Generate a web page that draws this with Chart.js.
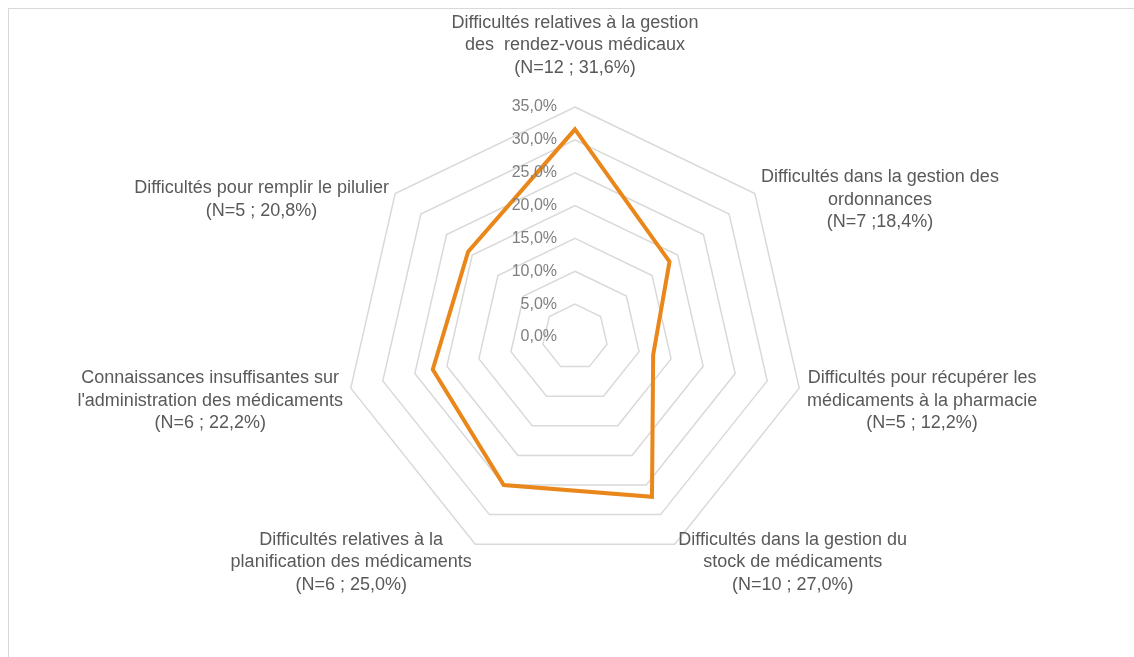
<!DOCTYPE html>
<html>
<head>
<meta charset="utf-8">
<script src="https://cdn.jsdelivr.net/npm/chart.js@4/dist/chart.umd.min.js"></script>
<style>
  body { margin: 0; background: #fff; overflow: hidden; }
  #wrap { position: relative; width: 1134px; height: 657px; overflow: hidden; }
  #frame { position: absolute; left: 8px; top: 8px; right: -10px; bottom: -10px;
           border-left: 1.5px solid #d9d9d9; border-top: 1.5px solid #d9d9d9; }
  canvas { position: absolute; left: 0; top: 0; }
</style>
</head>
<body>
<div id="wrap">
  <div id="frame"></div>
  <canvas id="chart1" width="1134" height="657"></canvas>
</div>
<script>
// axis labels (one array per axis, one entry per line)
var categories = [
  ["Difficultés relatives à la gestion", "des  rendez-vous médicaux", "(N=12 ; 31,6%)"],
  ["Difficultés dans la gestion des", "ordonnances", "(N=7 ;18,4%)"],
  ["Difficultés pour récupérer les", "médicaments à la pharmacie", "(N=5 ; 12,2%)"],
  ["Difficultés dans la gestion du", "stock de médicaments", "(N=10 ; 27,0%)"],
  ["Difficultés relatives à la", "planification des médicaments", "(N=6 ; 25,0%)"],
  ["Connaissances insuffisantes sur", "l'administration des médicaments", "(N=6 ; 22,2%)"],
  ["Difficultés pour remplir le pilulier", "(N=5 ; 20,8%)"]
];
var values = [31.6, 18.4, 12.2, 27.0, 25.0, 22.2, 20.8];
var tickMin = 0;
var tickMax = 35;
var tickStep = 5;

function fmtPct(v) {
  return v.toFixed(1).replace(".", ",") + "%";
}

// draws tick labels left of the vertical axis and centred multi-line axis labels
var labelPlugin = {
  id: "labelPlugin",
  afterDraw: function(chart) {
    var scale = chart.scales.r;
    var ctx = chart.ctx;
    ctx.save();

    ctx.font = "16px 'Liberation Sans', Arial, sans-serif";
    ctx.fillStyle = "#7f7f7f";
    ctx.textAlign = "right";
    ctx.textBaseline = "middle";
    scale.ticks.forEach(function(t) {
      var d = scale.getDistanceFromCenterForValue(t.value);
      ctx.fillText(fmtPct(t.value), scale.xCenter - 18, scale.yCenter - d);
    });

    ctx.font = "18px 'Liberation Sans', Arial, sans-serif";
    ctx.fillStyle = "#595959";
    ctx.textAlign = "center";
    var lh = 22.5;
    var n = categories.length;
    categories.forEach(function(lines, i) {
      var p = scale.getPointPosition(i, scale.drawingArea + 8);
      var w = 0;
      lines.forEach(function(s) { w = Math.max(w, ctx.measureText(s).width); });
      var h = lines.length * lh;
      var cx, cy;
      if (i === 0) {
        cx = p.x;
        cy = p.y - 20 - h / 2;
      } else {
        var right = (i / n) < 0.5;
        cx = right ? p.x + w / 2 : p.x - w / 2;
        cy = p.y + 11;
      }
      var y0 = cy - h / 2 + lh / 2;
      lines.forEach(function(s, k) {
        ctx.fillText(s, cx, y0 + k * lh);
      });
    });
    ctx.restore();
  }
};

new Chart(document.getElementById("chart1"), {
  type: "radar",
  data: {
    labels: categories,
    datasets: [
      {
        data: values,
        borderColor: "#e9871a",
        borderWidth: 4,
        backgroundColor: "rgba(0,0,0,0)",
        fill: false,
        pointRadius: 0,
        pointHoverRadius: 0,
        tension: 0
      }
    ]
  },
  options: {
    responsive: false,
    animation: false,
    layout: { padding: { left: 345, right: 329, top: 107, bottom: 90 } },
    plugins: {
      legend: { display: false },
      tooltip: { enabled: false }
    },
    scales: {
      r: {
        min: tickMin,
        max: tickMax,
        ticks: { stepSize: tickStep, display: false },
        angleLines: { display: false },
        grid: { color: "#d9d9d9", lineWidth: 1.5 },
        pointLabels: { display: false }
      }
    }
  },
  plugins: [labelPlugin]
});
</script>
</body>
</html>
